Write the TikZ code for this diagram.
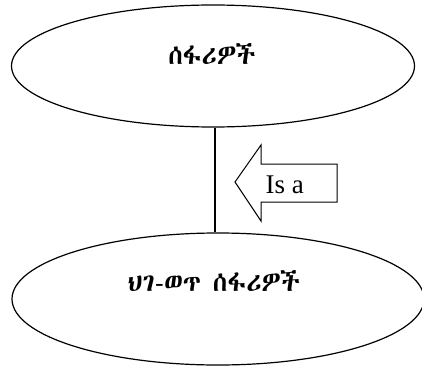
\documentclass[tikz,border=0pt]{standalone}
\usepackage{fontspec}
\setmainfont{Liberation Serif}
\IfFontExistsTF{Abyssinica SIL}{\newfontfamily\ethfont{Abyssinica SIL}}{%
  \IfFontExistsTF{FreeSerif}{\newfontfamily\ethfont{FreeSerif}}{%
    \newfontfamily\ethfont{DejaVu Sans}}}
\usetikzlibrary{shapes.geometric,shapes.arrows}
\begin{document}
\begin{tikzpicture}[x=1pt,y=-1pt,
  oval/.style={draw,line width=1.2pt,ellipse,inner sep=0pt},
  lbl/.style={font=\ethfont\fontsize{26.5}{30}\selectfont},
  isa/.style={font=\fontsize{27}{30}\selectfont}]
\useasboundingbox (0,0) rectangle (422,366);
\node[oval,minimum width=403pt,minimum height=122pt] (top) at (213,66) {};
\node[lbl] (toptext) at (212,54) {ሰፋሪዎች};
\node[oval,minimum width=412pt,minimum height=132pt] (bot) at (218,299) {};
\node[lbl] (bottext) at (214,281) {ህገ-ወጥ ሰፋሪዎች};
\draw[line width=1.2pt] (top.south -| 215,0) -- (bot.north -| 215,0);
\coordinate (tip) at (235,182);
\draw[line width=1pt] (tip) -- (261,145) -- (261,164) -- (337,164) -- (337,202) -- (261,202) -- (261,221) -- cycle;
\node[isa,anchor=base west] (isatext) at (262,193) {Is a};
\end{tikzpicture}
\end{document}
